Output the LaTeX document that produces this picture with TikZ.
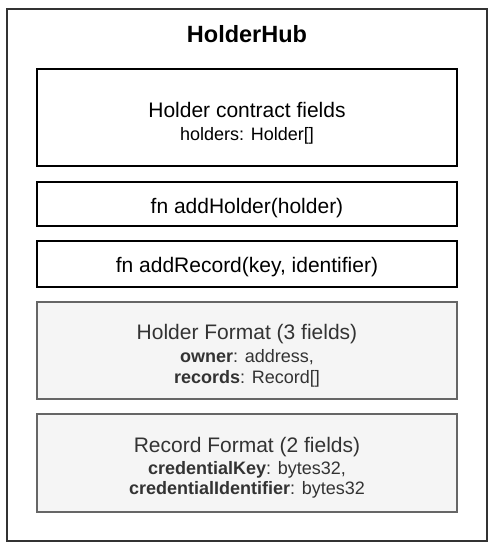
\documentclass[tikz,border=0pt]{standalone}
\usepackage{fontspec}
\setmainfont{Liberation Sans}
\definecolor{hubedge}{HTML}{333333}
\definecolor{grayedge}{HTML}{666666}
\definecolor{grayfill}{HTML}{F5F5F5}
\definecolor{graytext}{HTML}{333333}
\begin{document}
\begin{tikzpicture}[x=1pt,y=-1pt,
  hubbox/.style={draw=hubedge,line width=1.3pt,fill=white,minimum width=480pt,minimum height=532pt,inner sep=0pt},
  whitebox/.style={draw=black,line width=1.3pt,fill=white,minimum width=420pt,inner sep=0pt},
  graybox/.style={draw=grayedge,line width=1.3pt,fill=grayfill,minimum width=420pt,inner sep=0pt},
  titletext/.style={anchor=base,inner sep=0pt,font=\fontsize{23.5}{28}\selectfont\bfseries},
  bigtext/.style={anchor=base,inner sep=0pt,font=\fontsize{21}{25}\selectfont},
  smalltext/.style={anchor=base,inner sep=0pt,font=\fontsize{18}{22}\selectfont},
  graybig/.style={bigtext,text=graytext},
  graysmall/.style={smalltext,text=graytext}]
\useasboundingbox (0,0) rectangle (493,550);
\node[hubbox] (hub) at (247,275) {};
\node[titletext] (title) at (247,42) {HolderHub};
\node[whitebox,minimum height=97pt] (fields) at (247,117.5) {};
\node[bigtext] (fieldsA) at (247,117) {Holder contract fields};
\node[smalltext] (fieldsB) at (247,140) {holders: Holder[]};
\node[whitebox,minimum height=44pt] (addh) at (247,204) {};
\node[bigtext] (addhT) at (247,213) {fn addHolder(holder)};
\node[whitebox,minimum height=46pt] (addr) at (247,264) {};
\node[bigtext] (addrT) at (247,272) {fn addRecord(key, identifier)};
\node[graybox,minimum height=97pt] (hfmt) at (247,350.5) {};
\node[graybig] (hfmtA) at (247,339) {Holder Format (3 fields)};
\node[graysmall] (hfmtB) at (247,362) {\textbf{owner}: address,};
\node[graysmall] (hfmtC) at (247,383) {\textbf{records}: Record[]};
\node[graybox,minimum height=98pt] (rfmt) at (247,463) {};
\node[graybig] (rfmtA) at (247,452) {Record Format (2 fields)};
\node[graysmall] (rfmtB) at (247,474) {\textbf{credentialKey}: bytes32,};
\node[graysmall] (rfmtC) at (247,494) {\textbf{credentialIdentifier}: bytes32};
\end{tikzpicture}
\end{document}
